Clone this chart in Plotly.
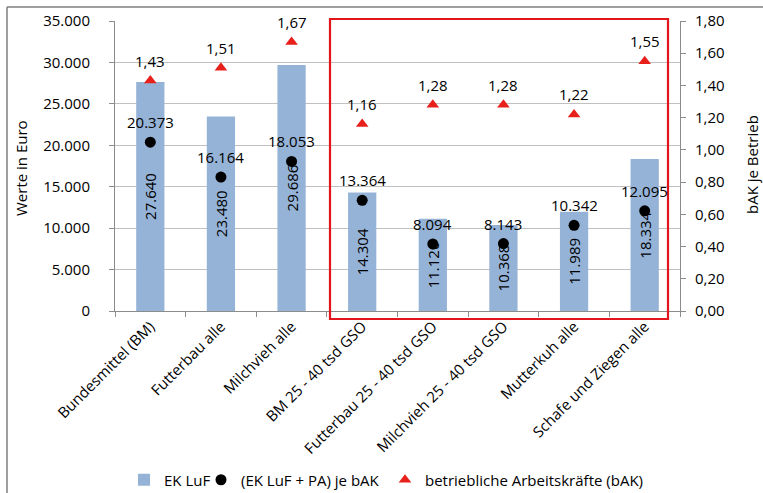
import plotly.graph_objects as go

# Betriebsgruppen
categories = [
    "Bundesmittel (BM)",
    "Futterbau alle",
    "Milchvieh alle",
    "BM 25 - 40 tsd GSO",
    "Futterbau 25 - 40 tsd GSO",
    "Milchvieh 25 - 40 tsd GSO",
    "Mutterkuh alle",
    "Schafe und Ziegen alle",
]
# Einkommen der Land- und Forstwirtschaft (Euro)
ek_luf = [27640, 23480, 29686, 14304, 11120, 10368, 11989, 18334]
# (EK LuF + Personalaufwand) je bAK (Euro)
ek_pa_je_bak = [20373, 16164, 18053, 13364, 8094, 8143, 10342, 12095]
# betriebliche Arbeitskräfte je Betrieb
bak = [1.43, 1.51, 1.67, 1.16, 1.28, 1.28, 1.22, 1.55]

FONT = "Open Sans"
FS = 15
AXIS_GREY = "#8c8c8c"
GRID_GREY = "#c0c0c0"

fig = go.Figure()

fig.add_trace(go.Bar(
    name="EK LuF",
    x=categories, y=ek_luf,
    marker=dict(color="#95b3d7", line=dict(width=0)),
    width=0.4,
    texttemplate="%{y:,.0f}",
    textposition="inside",
    insidetextanchor="middle",
    textangle=-90,
    textfont=dict(family=FONT, size=FS, color="black"),
    constraintext="none",
    legend="legend",
))

fig.add_trace(go.Scatter(
    name="(EK LuF + PA) je bAK",
    x=categories, y=ek_pa_je_bak,
    mode="markers",
    marker=dict(symbol="circle", size=11, color="black"),
    legend="legend2",
))

fig.add_trace(go.Scatter(
    name="betriebliche Arbeitskräfte (bAK)",
    x=categories, y=bak,
    yaxis="y2",
    mode="markers",
    marker=dict(symbol="triangle-up", size=11, color="#e8201c"),
    legend="legend3",
))

# Plot area in pixels: x 115..680, y 21..310.7
L, R, T, B = 115, 83, 21, 182
W, H = 763, 493
pw, ph = W - L - R, H - T - B


def px_x(px):
    return (px - L) / pw


def px_y(py):
    return (H - B - py) / ph


shapes = [
    # hervorgehobene Gruppen
    dict(type="rect", xref="paper", yref="paper",
         x0=px_x(330), x1=px_x(668), y0=px_y(319), y1=px_y(19),
         line=dict(color="#e0161c", width=2.2), layer="above"),
    # äußerer Rahmen
    dict(type="line", xref="paper", yref="paper",
         x0=px_x(7), x1=px_x(763), y0=px_y(7), y1=px_y(7),
         line=dict(color="#7f7f7f", width=1.5)),
    dict(type="line", xref="paper", yref="paper",
         x0=px_x(7), x1=px_x(7), y0=px_y(7), y1=px_y(493),
         line=dict(color="#7f7f7f", width=1.5)),
]

label_font = dict(family=FONT, size=FS, color="black")

annotations = [
    dict(text="Werte in Euro", xref="paper", yref="paper",
         x=px_x(21), y=px_y(168), textangle=-90, showarrow=False,
         font=label_font, xanchor="center", yanchor="middle"),
    dict(text="bAK je Betrieb", xref="paper", yref="paper",
         x=px_x(752), y=px_y(165), textangle=-90, showarrow=False,
         font=label_font, xanchor="center", yanchor="middle"),
]

# Datenbeschriftungen oberhalb der Punkte und Dreiecke
for cat, v in zip(categories, ek_pa_je_bak):
    annotations.append(dict(
        x=cat, y=v, xref="x", yref="y", text=f"{v:,}".replace(",", "."),
        showarrow=False, yshift=20, xanchor="center", yanchor="middle",
        font=label_font))
for cat, v in zip(categories, bak):
    annotations.append(dict(
        x=cat, y=v, xref="x", yref="y2", text=f"{v:.2f}".replace(".", ","),
        showarrow=False, yshift=20, xanchor="center", yanchor="middle",
        font=label_font))


def legend_at(left_px):
    return dict(orientation="h", x=px_x(left_px), y=px_y(480),
                xanchor="left", yanchor="middle",
                bgcolor="rgba(0,0,0,0)", borderwidth=0,
                font=label_font, itemwidth=30)


fig.update_layout(
    width=W, height=H,
    margin=dict(l=L, r=R, t=T, b=B, autoexpand=False),
    paper_bgcolor="white", plot_bgcolor="white",
    separators=",.",
    font=label_font,
    showlegend=True,
    legend=legend_at(124),
    legend2=legend_at(201),
    legend3=legend_at(385),
    shapes=shapes,
    annotations=annotations,
    xaxis=dict(
        categoryorder="array", categoryarray=categories,
        tickangle=-45, ticks="outside", tickson="boundaries",
        ticklen=5, tickcolor=AXIS_GREY,
        showline=True, linecolor=AXIS_GREY, linewidth=1,
        showgrid=False, automargin=False,
        tickfont=label_font,
    ),
    yaxis=dict(
        range=[0, 35000], dtick=5000, tickformat=",.0f",
        showgrid=True, gridcolor=GRID_GREY, gridwidth=1,
        showline=True, linecolor=AXIS_GREY, linewidth=1,
        ticks="outside", ticklen=5, tickcolor=AXIS_GREY,
        ticklabelstandoff=16, automargin=False, zeroline=False,
        tickfont=label_font,
    ),
    yaxis2=dict(
        range=[0, 1.8], dtick=0.2, tickformat=".2f",
        overlaying="y", side="right",
        showgrid=False, zeroline=False,
        showline=True, linecolor=AXIS_GREY, linewidth=1,
        ticks="outside", ticklen=5, tickcolor=AXIS_GREY,
        ticklabelstandoff=6, automargin=False,
        tickfont=label_font,
    ),
)

fig.write_html("out.html")
